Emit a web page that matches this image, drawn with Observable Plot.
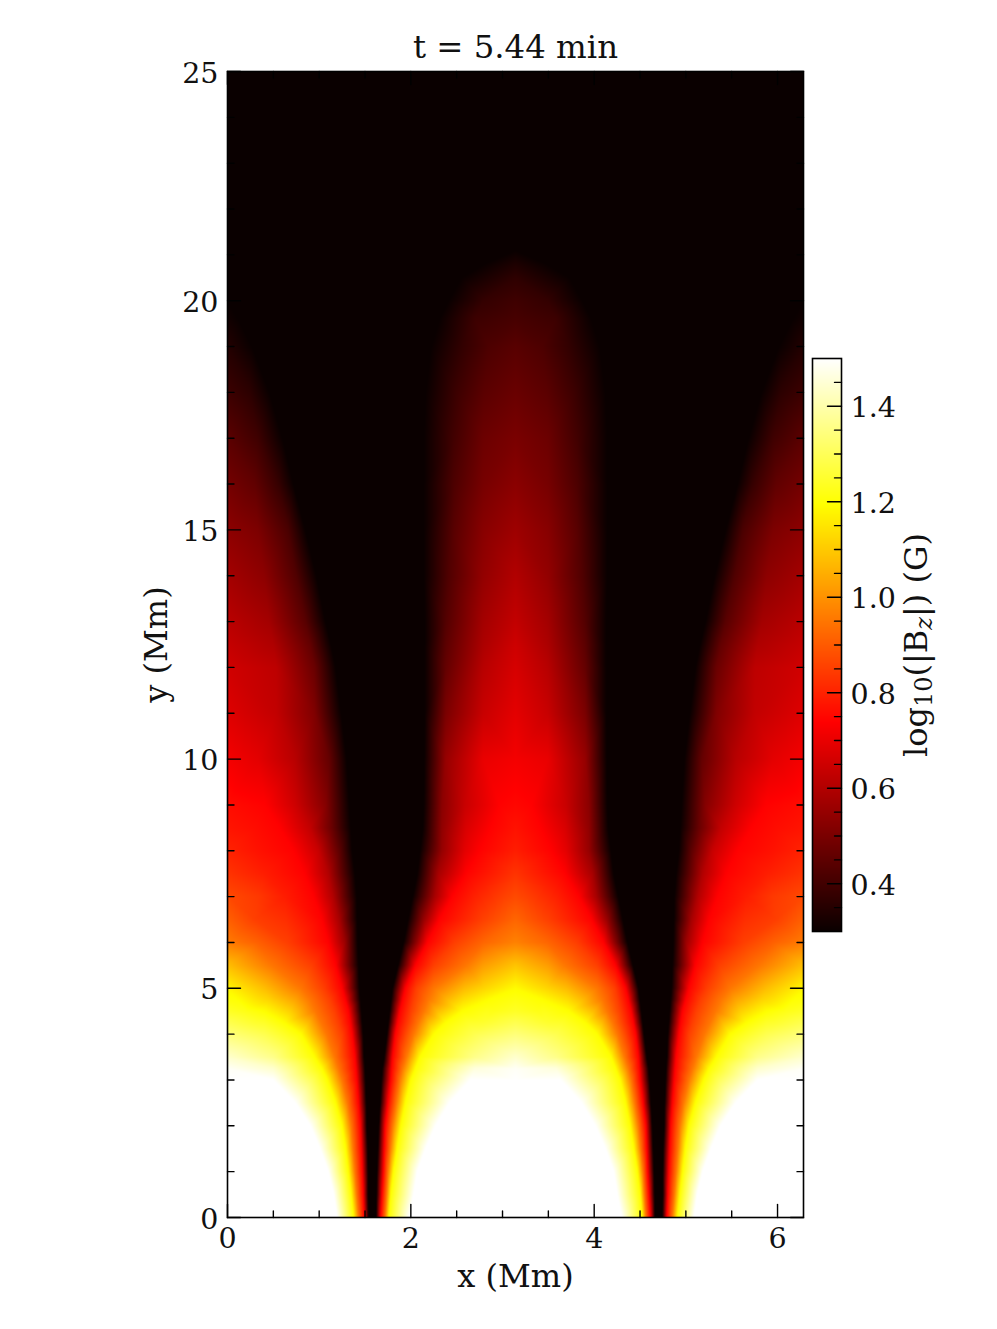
<!DOCTYPE html>
<html><head><meta charset="utf-8">
<script src="https://cdn.jsdelivr.net/npm/d3@7"></script>
<script src="https://cdn.jsdelivr.net/npm/@observablehq/plot@0.6"></script>
<style>
html,body{margin:0;padding:0;background:#fff}
#wrap{position:relative;width:997px;height:1329px;overflow:hidden}
#wrap svg{position:absolute;left:0;top:0;background:transparent}
</style></head><body><div id="wrap"></div>
<script>
// Rows cover x = 0 .. pi; the picture is mirror symmetric about x = pi.
const rowY = [0,.5,1,1.5,2,2.5,3,3.25,3.5,4,4.25,4.5,4.75,5,5.5,6,6.5,7,7.5,8,8.5,9,10,11,12,12.5,13,14,15,16,17,18,19,19.6,20,20.5,20.8,21.1,25];
const rowX = [
 [0,1.196,1.375,1.43,1.49,1.54,1.62,1.67,1.72,1.76,1.98,3.1416],
 [0,1.16,1.35,1.41,1.48,1.535,1.625,1.685,1.735,1.78,2.03,3.1416],
 [0,1.10,1.32,1.39,1.47,1.535,1.63,1.70,1.75,1.81,2.07,3.1416],
 [0,1.01,1.29,1.37,1.46,1.53,1.64,1.71,1.775,1.85,2.16,3.1416],
 [0,.905,1.25,1.35,1.45,1.52,1.65,1.72,1.80,1.89,2.27,3.1416],
 [0,.74,1.18,1.31,1.43,1.515,1.665,1.75,1.84,1.94,2.42,3.1416],
 [0,.50,1.09,1.25,1.41,1.505,1.68,1.78,1.88,2.0,2.65,3.1416],
 [0,.5,1.03,1.21,1.40,1.50,1.69,1.79,1.91,2.05,2.7,3.1416],
 [0,.5,.95,1.17,1.39,1.49,1.71,1.80,1.95,2.10,2.7,3.1416],
 [0,.40,.80,1.08,1.25,1.36,1.48,1.74,1.83,1.93,2.03,2.25,2.7,3.1416],
 [0,.30,.62,1.02,1.21,1.34,1.47,1.755,1.855,1.97,2.08,2.38,2.8,3.1416],
 [0,.2,.40,.96,1.17,1.32,1.46,1.77,1.88,2.0,2.14,2.56,2.9,3.1416],
 [0,.45,.9,1.12,1.285,1.45,1.785,1.91,2.03,2.19,2.85,3.1416],
 [0,.40,.80,1.05,1.25,1.44,1.80,1.94,2.06,2.25,2.79,3.1416],
 [0,.48,.92,1.18,1.43,1.86,2.05,2.25,2.60,3.1416],
 [0,.33,.65,1.10,1.28,1.42,1.92,2.05,2.18,2.48,2.79,3.1416],
 [0,.30,1.03,1.22,1.415,1.97,2.14,2.31,2.78,3.1416],
 [0,.33,.62,.94,1.15,1.41,2.02,2.26,2.45,3.0,3.1416],
 [0,.4,.84,1.1,1.39,2.07,2.3,2.6,3.1416],
 [0,.33,.72,.99,1.23,1.36,2.10,2.34,2.59,2.75,3.1416],
 [0,.3,.57,.9,1.15,1.345,2.13,2.34,2.6,2.87,3.1416],
 [0,.41,.74,1.07,1.33,2.14,2.34,2.59,2.97,3.1416],
 [0,.33,.74,1.11,1.30,2.145,2.38,2.79,3.1416],
 [0,.53,.95,1.24,2.15,2.38,2.79,3.1416],
 [0,.53,.95,1.18,2.15,2.38,2.79,3.1416],
 [0,.5,.9,1.13,2.15,2.38,2.79,3.1416],
 [0,.45,.85,1.07,2.15,2.38,2.79,3.1416],
 [0,.4,.75,.97,2.14,2.4,2.79,3.1416],
 [0,.33,.66,.85,2.14,2.47,2.79,3.1416],
 [0,.3,.55,.72,2.14,2.47,2.79,3.1416],
 [0,.33,.6,2.14,2.47,2.79,3.1416],
 [0,.25,.46,2.16,2.5,2.8,3.1416],
 [0,.27,2.22,2.55,2.85,3.1416],
 [0,.12,2.31,2.7,3.1416],
 [0,2.41,2.8,3.1416],
 [0,2.55,3.1416],
 [0,2.8,3.1416],
 [0,3.1416],
 [0,3.1416]
];
const rowV = [
 [1.5,1.5,1.195,.95,.74,.3,.3,.74,.95,1.195,1.5,1.5],
 [1.5,1.5,1.195,.95,.74,.3,.3,.74,.95,1.195,1.5,1.5],
 [1.5,1.5,1.195,.95,.74,.3,.3,.74,.95,1.195,1.5,1.5],
 [1.5,1.5,1.195,.95,.74,.3,.3,.74,.95,1.195,1.5,1.5],
 [1.5,1.5,1.195,.95,.74,.3,.3,.74,.95,1.195,1.5,1.5],
 [1.5,1.5,1.195,.95,.74,.3,.3,.74,.95,1.195,1.5,1.5],
 [1.5,1.5,1.195,.95,.74,.3,.3,.74,.95,1.195,1.5,1.5],
 [1.49,1.44,1.195,.95,.74,.3,.3,.74,.95,1.195,1.46,1.49],
 [1.44,1.36,1.195,.95,.74,.3,.3,.74,.95,1.195,1.36,1.44],
 [1.34,1.29,1.195,.95,.85,.74,.3,.3,.74,.85,.95,1.195,1.29,1.34],
 [1.29,1.25,1.195,.95,.85,.74,.3,.3,.74,.85,.95,1.195,1.25,1.29],
 [1.24,1.22,1.195,.95,.85,.74,.3,.3,.74,.85,.95,1.195,1.22,1.24],
 [1.205,1.12,.95,.85,.74,.3,.3,.74,.85,.95,1.195,1.215],
 [1.18,1.08,.95,.85,.74,.3,.3,.74,.85,.95,1.12,1.19],
 [1.08,.95,.85,.74,.3,.3,.74,.85,.95,1.09],
 [.96,.91,.85,.74,.56,.3,.3,.52,.74,.85,.92,.97],
 [.91,.85,.74,.58,.3,.3,.55,.74,.85,.92],
 [.87,.84,.79,.74,.6,.3,.3,.58,.74,.85,.87],
 [.83,.79,.74,.6,.3,.3,.58,.74,.83],
 [.80,.77,.74,.64,.44,.3,.3,.55,.69,.74,.79],
 [.775,.76,.74,.63,.46,.3,.3,.54,.67,.74,.77],
 [.76,.74,.65,.52,.3,.3,.53,.64,.74,.75],
 [.72,.69,.61,.46,.3,.3,.55,.70,.72],
 [.68,.63,.51,.3,.3,.50,.64,.69],
 [.655,.62,.47,.3,.3,.46,.61,.665],
 [.635,.595,.46,.3,.3,.445,.59,.65],
 [.615,.575,.44,.3,.3,.43,.575,.63],
 [.575,.535,.425,.3,.3,.42,.545,.60],
 [.535,.505,.415,.3,.3,.44,.525,.565],
 [.49,.455,.38,.3,.3,.42,.495,.53],
 [.445,.395,.3,.3,.40,.475,.50],
 [.39,.36,.3,.3,.39,.445,.47],
 [.345,.3,.3,.37,.42,.44],
 [.315,.3,.3,.39,.41],
 [.3,.3,.375,.395],
 [.3,.3,.365],
 [.3,.3,.335],
 [.3,.3],
 [.3,.3]
];
const xMajor = [0,2,4,6];
const xMinor = [.5,1,1.5,2.5,3,3.5,4.5,5,5.5];
const yMajor = [0,5,10,15,20,25];
const yMinor = [1,2,3,4,6,7,8,9,11,12,13,14,16,17,18,19,21,22,23,24];
const cbMajor = [.4,.6,.8,1.0,1.2,1.4];
const cbMinor = [.35,.45,.5,.55,.65,.7,.75,.85,.9,.95,1.05,1.1,1.15,1.25,1.3,1.35,1.45];
const hotStops = [.3,.738,1.195,1.5];
const hotColors = ["#0a0000","#ff0000","#ffff00","#ffffff"];
const xMax = 6.2832;

const samples = [];
rowY.forEach((y,i)=>rowX[i].forEach((x,j)=>{
  samples.push({x,y,v:rowV[i][j]});
  if (x < 3.14) samples.push({x:xMax-x,y,v:rowV[i][j]});
}));

const FF = "DejaVu Serif";
const color = {type:"linear",domain:hotStops,range:hotColors,clamp:true,interpolate:"rgb"};
const tickShape = {draw(c,l){c.moveTo(0,0);c.lineTo(0,-l);}};
const tick = (data,channel,anchor,rotate,length,sw=1.4)=>Plot.vector(data,{
  [channel]:d=>d,frameAnchor:anchor,rotate,length,anchor:"start",shape:tickShape,stroke:"black",strokeWidth:sw});

const main = Plot.plot({
  width:997,height:1329,marginLeft:227,marginRight:194,marginTop:71,marginBottom:112,
  style:{fontFamily:FF,background:"transparent"},
  x:{domain:[0,xMax],label:null,axis:null},
  y:{domain:[0,25],label:null,axis:null},
  color,
  marks:[
    Plot.raster(samples,{x:"x",y:"y",fill:"v",interpolate:"barycentric",pixelSize:1}),
    Plot.frame({stroke:"black",strokeWidth:1.6}),
    tick(xMajor,"x","bottom",0,13), tick(xMinor,"x","bottom",0,6.5),
    tick(xMajor,"x","top",180,13), tick(xMinor,"x","top",180,6.5),
    tick(yMajor,"y","left",90,13), tick(yMinor,"y","left",90,6.5),
    tick(yMajor,"y","right",-90,13), tick(yMinor,"y","right",-90,6.5),
    Plot.axisX(xMajor,{anchor:"bottom",tickSize:0,tickPadding:10,fontSize:28.5,label:null,tickFormat:d=>String(d),fill:"#111"}),
    Plot.axisY(yMajor,{anchor:"left",tickSize:0,tickPadding:9,dy:2,fontSize:28.5,label:null,tickFormat:d=>String(d),fill:"#111"}),
    Plot.text(["t = 5.44 min"],{frameAnchor:"top",dy:-24,lineAnchor:"middle",fontSize:32.4,fill:"#111"}),
    Plot.text(["x (Mm)"],{frameAnchor:"bottom",dy:59,lineAnchor:"middle",fontSize:32,fill:"#111"}),
    Plot.text(["y (Mm)"],{frameAnchor:"left",dx:-71,rotate:-90,lineAnchor:"middle",textAnchor:"middle",fontSize:32,fill:"#111"})
  ]
});

const bar = Plot.plot({
  width:997,height:1329,marginLeft:812,marginRight:156,marginTop:358,marginBottom:398,
  style:{fontFamily:FF,background:"transparent"},
  x:{domain:[0,1],axis:null},
  y:{domain:[.3,1.5],axis:null},
  color,
  marks:[
    Plot.raster({x1:0,x2:1,y1:.3,y2:1.5,fill:(x,y)=>y,pixelSize:1}),
    Plot.frame({stroke:"black",strokeWidth:1.6}),
    tick(cbMajor,"y","right",-90,14), tick(cbMinor,"y","right",-90,7),
    Plot.axisY(cbMajor,{anchor:"right",tickSize:0,tickPadding:9,dy:2,fontSize:28.5,label:null,tickFormat:d=>d.toFixed(1),fill:"#111"}),
    Plot.text(["log10(|Bz|) (G)"],{frameAnchor:"right",dx:75,rotate:-90,lineAnchor:"middle",textAnchor:"middle",fontSize:32,fill:"#111"})
  ]
});
const wrap = document.getElementById("wrap");
wrap.append(main,bar);

// subscripts in the colour bar label
d3.select(bar).selectAll("text").filter(function(){return this.textContent==="log10(|Bz|) (G)";}).each(function(){
  const t=d3.select(this); t.selectAll("*").remove(); t.text(null);
  t.append("tspan").text("log");
  t.append("tspan").attr("dy",5).attr("font-size",24).text("10");
  t.append("tspan").attr("dy",-5).text("(|B");
  t.append("tspan").attr("dy",5).attr("font-size",24).attr("font-style","italic").text("z");
  t.append("tspan").attr("dy",-5).text("|) (G)");
});
</script></body></html>
